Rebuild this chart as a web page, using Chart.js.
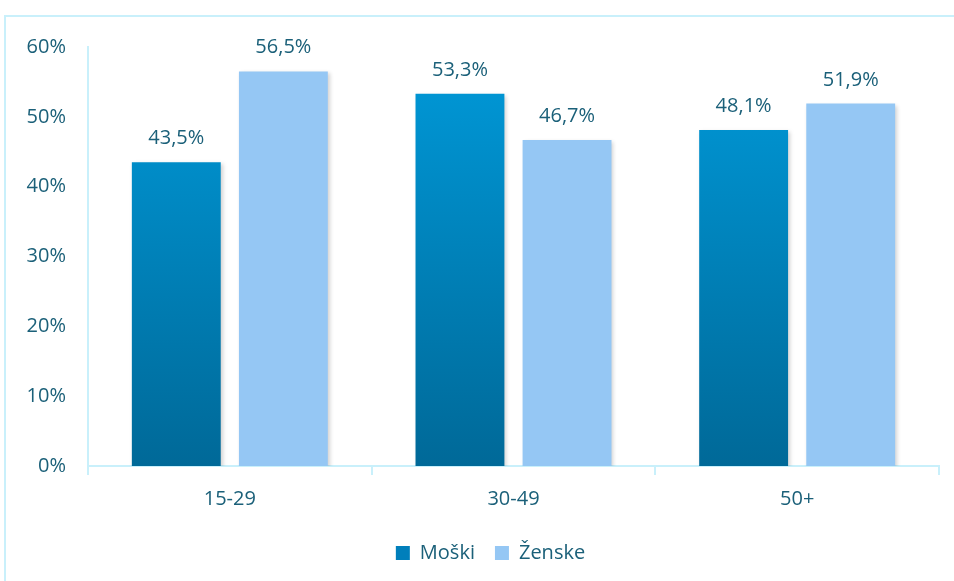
<!DOCTYPE html>
<html>
<head>
<meta charset="utf-8">
<script src="https://cdn.jsdelivr.net/npm/chart.js@4"></script>
<style>
  html, body { margin: 0; padding: 0; background: #fff; }
  body { width: 954px; height: 581px; overflow: hidden; position: relative; }
  #frame {
    position: absolute; left: 4px; top: 15px; width: 960px; height: 600px;
    border-left: 2px solid #c9f0fb; border-top: 2px solid #c9f0fb;
  }
  #wrap { position: absolute; left: 0; top: 0; width: 954px; height: 581px; }
</style>
</head>
<body>
<div id="frame"></div>
<div id="wrap"><canvas id="chart"></canvas></div>
<script>
// Podatki
const categories = ["15-29", "30-49", "50+"];
const moski = [43.5, 53.3, 48.1];
const zenske = [56.5, 46.7, 51.9];
const seriesNames = ["Moški", "Ženske"];
const yTicks = [0, 10, 20, 30, 40, 50, 60];

const textColor = "#1b6079";
const lineColor = "#c9f0fb";
const fontFamily = "'Open Sans', sans-serif";

function moskiGradient(context) {
    const chart = context.chart;
    const area = chart.chartArea;
    if (!area) return "#0088c4";
    const g = chart.ctx.createLinearGradient(0, area.top, 0, area.bottom);
    g.addColorStop(0, "#009ada");
    g.addColorStop(1, "#006998");
    return g;
}

// senca za stolpce
const shadowPlugin = {
    id: "shadow",
    beforeDatasetsDraw(chart) {
        const ctx = chart.ctx;
        ctx.save();
        ctx.shadowColor = "rgba(0,0,0,0.18)";
        ctx.shadowBlur = 4;
        ctx.shadowOffsetX = 2;
        ctx.shadowOffsetY = 2;
    },
    afterDatasetsDraw(chart) {
        chart.ctx.restore();
    }
};

// legenda malo bolj desno (sredina nad risalno ploskvijo)
const legendShift = {
    id: "legendShift",
    afterLayout(chart) {
        chart.legend.left += 21;
        chart.legend.right += 21;
    }
};

// oznake nad stolpci
const labelPlugin = {
    id: "valueLabels",
    afterDatasetsDraw(chart) {
        const ctx = chart.ctx;
        ctx.save();
        ctx.fillStyle = textColor;
        ctx.font = "20px " + fontFamily;
        ctx.textAlign = "center";
        ctx.textBaseline = "alphabetic";
        chart.data.datasets.forEach((ds, i) => {
            chart.getDatasetMeta(i).data.forEach((bar, j) => {
                const txt = ds.data[j].toFixed(1).replace(".", ",") + "%";
                ctx.fillText(txt, bar.x, bar.y - 18);
            });
        });
        ctx.restore();
    }
};

const ctx = document.getElementById("chart").getContext("2d");
const chart = new Chart(ctx, {
    type: "bar",
    data: {
        labels: categories,
        datasets: [{
            label: seriesNames[0],
            data: moski,
            backgroundColor: moskiGradient
        }, {
            label: seriesNames[1],
            data: zenske,
            backgroundColor: "#95c7f4"
        }]
    },
    options: {
        responsive: true,
        maintainAspectRatio: false,
        animation: false,
        categoryPercentage: 0.755,
        barPercentage: 0.83,
        layout: { padding: { left: 0, right: 15, top: 47, bottom: 8 } },
        plugins: {
            tooltip: { enabled: false },
            legend: {
                position: "bottom",
                labels: {
                    color: textColor,
                    font: { size: 20, family: fontFamily },
                    boxWidth: 14,
                    boxHeight: 14,
                    padding: 20,
                    generateLabels(chart) {
                        const items = Chart.defaults.plugins.legend.labels.generateLabels(chart);
                        items[0].fillStyle = "#007fbb";
                        items.forEach(it => { it.lineWidth = 0; });
                        return items;
                    }
                }
            }
        },
        scales: {
            x: {
                grid: {
                    display: true,
                    drawOnChartArea: false,
                    drawTicks: true,
                    tickLength: 9,
                    color: lineColor,
                    lineWidth: 2
                },
                border: { color: lineColor, width: 2 },
                ticks: {
                    color: textColor,
                    font: { size: 20, family: fontFamily },
                    padding: 12
                }
            },
            y: {
                min: 0,
                max: 60,
                afterFit(scale) { scale.width = 88; },
                afterBuildTicks(scale) {
                    scale.ticks = yTicks.map(v => ({ value: v }));
                },
                grid: { display: false, drawTicks: false },
                border: { color: lineColor, width: 2 },
                ticks: {
                    color: textColor,
                    font: { size: 20, family: fontFamily },
                    padding: 22,
                    callback: v => v + "%"
                }
            }
        }
    },
    plugins: [shadowPlugin, legendShift, labelPlugin]
});
</script>
</body>
</html>
